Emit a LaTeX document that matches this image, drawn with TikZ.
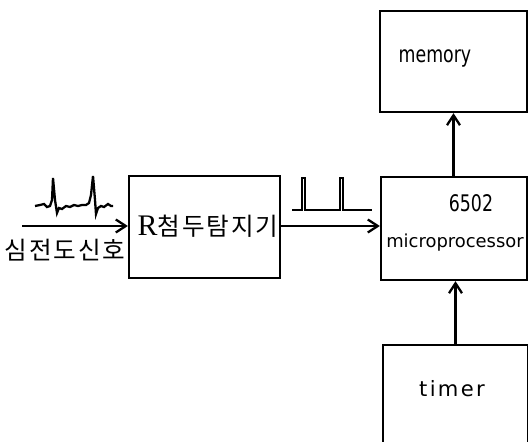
\documentclass[tikz,border=0pt]{standalone}
\usepackage{fontspec}
\setmainfont{DejaVu Sans}
\newfontfamily\kofont[LetterSpace=8]{Noto Sans CJK KR}
\newfontfamily\rfont{Liberation Serif}
\usetikzlibrary{arrows.meta}

\tikzset{
  block/.style={draw, line width=1.3pt, rectangle, inner sep=0pt},
  flow/.style={-{Straight Barb[length=2mm,width=2.6mm]}, line width=1.3pt},
  narrow/.style={font=\fontsize{13}{15}\selectfont\addfontfeatures{FakeStretch=0.76}},
  spaced/.style={font=\fontsize{12}{14}\selectfont\addfontfeatures{LetterSpace=11}},
  kolabel/.style={font=\fontsize{14}{16}\selectfont\kofont}
}

\begin{document}
\begin{tikzpicture}[x=0.02cm,y=-0.02cm]

\useasboundingbox (0,0) rectangle (528,442);

% detector block
\node[block, minimum width=3.02cm, minimum height=2.04cm] (det) at (204.5,227) {};
\node[kolabel] (detlbl) at (208,226) {{\rfont\fontsize{17}{19}\selectfont R}첨두탐지기};

% processor block
\node[block, minimum width=2.92cm, minimum height=2.06cm] (cpu) at (454,228.5) {};
\node[narrow] (cpunum) at (471,203) {6502};
\node[font=\fontsize{10.2}{12}\selectfont] (cpulbl) at (455,243) {microprocessor};

% memory block
\node[block, minimum width=2.94cm, minimum height=2.02cm] (mem) at (453.5,61.5) {};
\node[narrow] (memlbl) at (435,58) {memory};

% timer block (runs off the bottom)
\node[block, minimum width=2.9cm, minimum height=2.4cm] (tim) at (455.5,405) {};
\node[spaced] (timlbl) at (452,389) {timer};

% input signal
\coordinate (in) at (22,226);
\draw[flow] (in) -- (det.west |- in);
\node[kolabel] (inlbl) at (65,250) {심전도신호};

% ecg trace
\draw[line width=1.3pt] (35,206) -- (40,205) -- (44,204) -- (47,207) -- (50,206)
  -- (52,200) -- (53,178) -- (55,200) -- (57,213) -- (59,208) -- (62,209)
  -- (66,206) -- (70,207) -- (74,205) -- (78,206) -- (82,205) -- (86,205)
  -- (89,203) -- (91,195) -- (93,176) -- (95,200) -- (96,214) -- (98,208)
  -- (101,206) -- (104,207) -- (108,204) -- (111,206) -- (113,206);

% detected pulses
\draw[line width=1.3pt] (292,210) -- (302,210) -- (302,178) -- (305,178) -- (305,210)
  -- (340,210) -- (340,178) -- (343,178) -- (343,210) -- (372,210);

% connections
\draw[flow] (det.east |- 0,226) -- (cpu.west |- 0,226);
\draw[flow] (mem.south |- cpu.north) -- (mem.south);
\draw[flow] (tim.north) -- (tim.north |- cpu.south);

\end{tikzpicture}
\end{document}
